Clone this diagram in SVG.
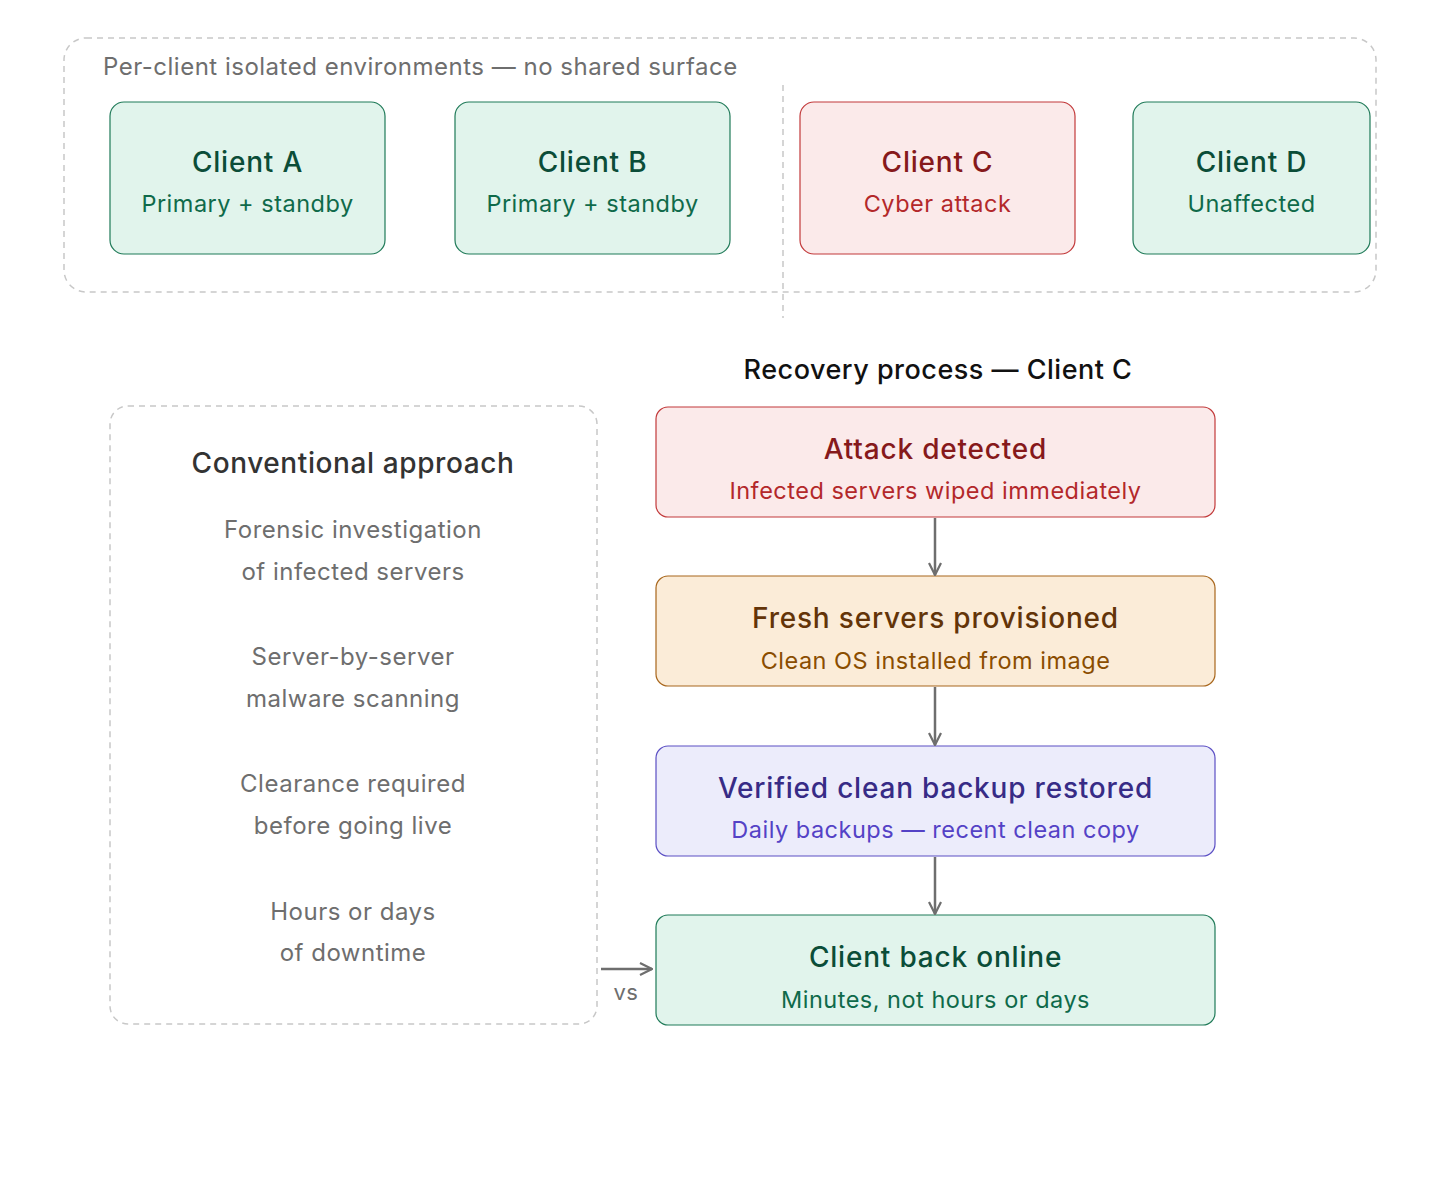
<svg xmlns="http://www.w3.org/2000/svg" width="1440" height="1186" viewBox="0 0 1440 1186">
<defs>
<style>
text{font-family:Inter,"Noto Sans",sans-serif;text-anchor:middle;letter-spacing:0.5px}
.t{font-size:28px;font-weight:500;letter-spacing:0.8px}
.s{font-size:23.5px}
.g rect{fill:#e1f4ec;stroke:#1f7a58;stroke-width:1.2}
.g .t{fill:#0b4d38}.g .s{fill:#0f6a4a}
.r rect{fill:#fbeaea;stroke:#c2393a;stroke-width:1.2}
.r .t{fill:#86191b}.r .s{fill:#b3282a}
.o rect{fill:#fbecd8;stroke:#a8661c;stroke-width:1.2}
.o .t{fill:#633408}.o .s{fill:#8a4d00}
.p rect{fill:#ececfb;stroke:#5b4fc4;stroke-width:1.2}
.p .t{fill:#372b86}.p .s{fill:#5442c6}
.dash{fill:none;stroke:#c8c8c8;stroke-width:1.5;stroke-dasharray:6 5}
.gray{fill:#6e6e6e;font-size:24px}
.con{stroke:#6e6e6e;stroke-width:2.5;fill:none}
</style>
<marker id="ah" viewBox="0 0 14 14" refX="13" refY="7" markerWidth="14" markerHeight="14" markerUnits="userSpaceOnUse" orient="auto"><path d="M1 1 L13 7 L1 13" fill="none" stroke="#6e6e6e" stroke-width="2.2"/></marker>
</defs>
<rect width="1440" height="1186" fill="#fff"/>
<g id="env">
<rect class="dash" x="64" y="38" width="1312" height="254" rx="22"/>
<text x="103" y="75" style="text-anchor:start" class="gray">Per-client isolated environments — no shared surface</text>
<line class="dash" x1="783" y1="85" x2="783" y2="318"/>
</g>
<g id="clientA" class="g"><rect x="110" y="102" width="275" height="152" rx="14"/><text class="t" x="247.5" y="172">Client A</text><text class="s" x="247.5" y="212">Primary + standby</text></g>
<g id="clientB" class="g"><rect x="455" y="102" width="275" height="152" rx="14"/><text class="t" x="592.5" y="172">Client B</text><text class="s" x="592.5" y="212">Primary + standby</text></g>
<g id="clientC" class="r"><rect x="800" y="102" width="275" height="152" rx="14"/><text class="t" x="937.5" y="172">Client C</text><text class="s" x="937.5" y="212">Cyber attack</text></g>
<g id="clientD" class="g"><rect x="1133" y="102" width="237" height="152" rx="14"/><text class="t" x="1251.5" y="172">Client D</text><text class="s" x="1251.5" y="212">Unaffected</text></g>
<text x="938" y="379" style="font-size:27px;font-weight:500;fill:#111">Recovery process — Client C</text>
<g id="conventional">
<rect class="dash" x="110" y="406" width="487" height="618" rx="18"/>
<text x="353" y="473" style="font-size:28px;font-weight:500;fill:#333;letter-spacing:0.6px">Conventional approach</text>
<text class="gray" x="353" y="538">Forensic investigation</text><text class="gray" x="353" y="580">of infected servers</text>
<text class="gray" x="353" y="665">Server-by-server</text><text class="gray" x="353" y="707">malware scanning</text>
<text class="gray" x="353" y="792">Clearance required</text><text class="gray" x="353" y="834">before going live</text>
<text class="gray" x="353" y="920">Hours or days</text><text class="gray" x="353" y="961">of downtime</text>
</g>
<g id="s1" class="r"><rect x="656" y="407" width="559" height="110" rx="12"/><text class="t" x="935.5" y="459">Attack detected</text><text class="s" x="935.5" y="499">Infected servers wiped immediately</text></g>
<g id="s2" class="o"><rect x="656" y="576" width="559" height="110" rx="12"/><text class="t" x="935.5" y="628">Fresh servers provisioned</text><text class="s" x="935.5" y="669">Clean OS installed from image</text></g>
<g id="s3" class="p"><rect x="656" y="746" width="559" height="110" rx="12"/><text class="t" x="935.5" y="798">Verified clean backup restored</text><text class="s" x="935.5" y="838">Daily backups — recent clean copy</text></g>
<g id="s4" class="g"><rect x="656" y="915" width="559" height="110" rx="12"/><text class="t" x="935.5" y="967">Client back online</text><text class="s" x="935.5" y="1008">Minutes, not hours or days</text></g>
<g id="connectors">
<line class="con" x1="935" y1="518" x2="935" y2="575" marker-end="url(#ah)"/>
<line class="con" x1="935" y1="687" x2="935" y2="745" marker-end="url(#ah)"/>
<line class="con" x1="935" y1="857" x2="935" y2="914" marker-end="url(#ah)"/>
<line class="con" x1="601" y1="969" x2="652" y2="969" marker-end="url(#ah)"/>
<text x="626" y="1000" style="font-size:22px;fill:#6e6e6e">vs</text>
</g>
</svg>
